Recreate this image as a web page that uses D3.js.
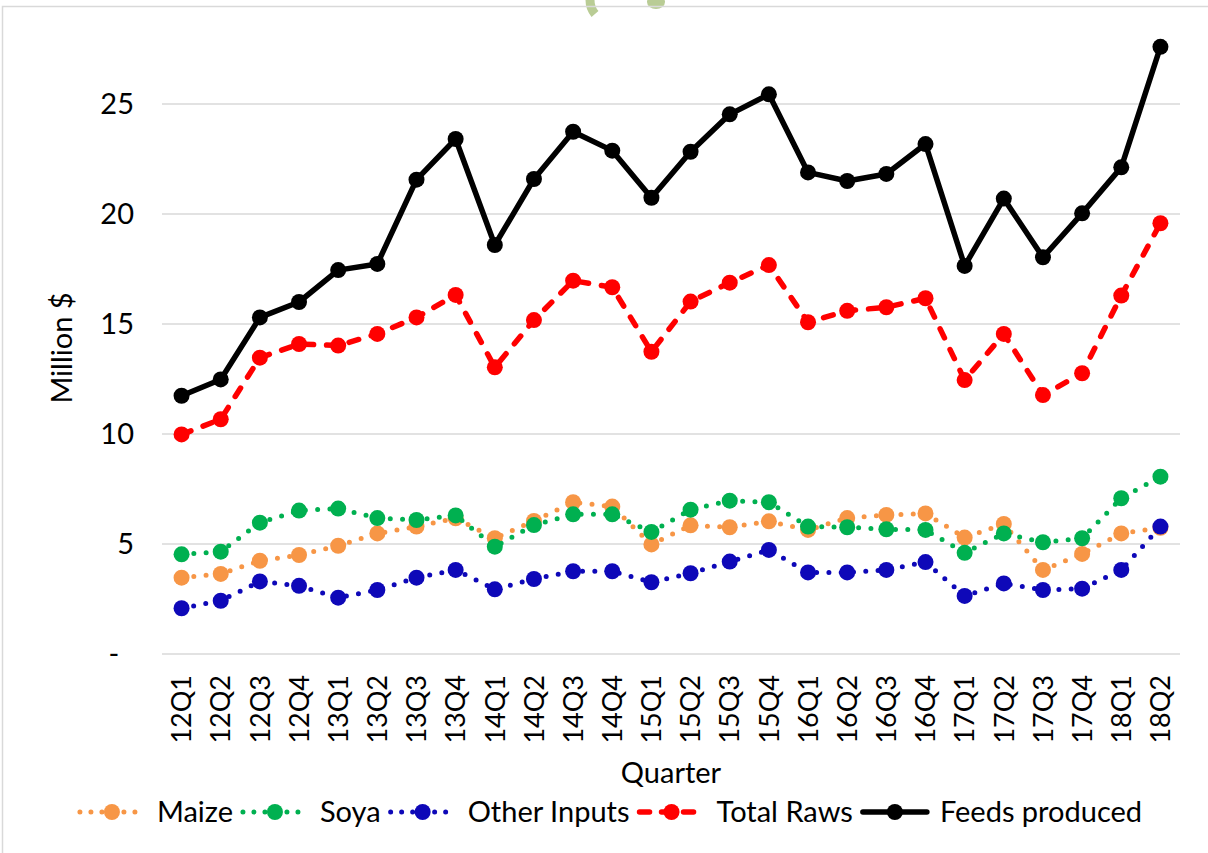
<!DOCTYPE html>
<html lang="en">
<head>
  <meta charset="UTF-8" />
  <title>Feed inputs vs feeds produced</title>
  <script src="https://d3js.org/d3.v7.min.js"></script>
  <style>
    body {
      margin: 0;
      background: #fff;
      font-family: 'Lato', 'Noto Sans', sans-serif;
    }
    svg text {
      fill: #000;
    }
  </style>
</head>
<body>
  <svg id="chart"></svg>

  <script>
    // Data (Million $ per quarter)
    const quarters = ["12Q1","12Q2","12Q3","12Q4","13Q1","13Q2","13Q3","13Q4",
      "14Q1","14Q2","14Q3","14Q4","15Q1","15Q2","15Q3","15Q4",
      "16Q1","16Q2","16Q3","16Q4","17Q1","17Q2","17Q3","17Q4","18Q1","18Q2"];

    const maize = [3.47, 3.64, 4.24, 4.5, 4.92, 5.48, 5.79, 6.17,
      5.26, 6.05, 6.9, 6.7, 4.98, 5.85, 5.76, 6.03,
      5.64, 6.18, 6.32, 6.39, 5.29, 5.91, 3.82, 4.55, 5.48, 5.74];

    const soya = [4.53, 4.65, 5.97, 6.52, 6.61, 6.18, 6.09, 6.3,
      4.88, 5.86, 6.35, 6.35, 5.55, 6.56, 6.97, 6.9,
      5.79, 5.76, 5.67, 5.64, 4.6, 5.48, 5.08, 5.26, 7.08, 8.06];

    const otherInputs = [2.08, 2.42, 3.3, 3.1, 2.56, 2.91, 3.47, 3.82,
      2.94, 3.41, 3.76, 3.76, 3.26, 3.67, 4.2, 4.73,
      3.71, 3.71, 3.82, 4.18, 2.64, 3.21, 2.91, 2.97, 3.82, 5.79];

    const totalRaws = [9.98, 10.67, 13.47, 14.09, 14.02, 14.55, 15.3, 16.32,
      13.03, 15.18, 16.97, 16.67, 13.74, 16.02, 16.88, 17.68,
      15.08, 15.6, 15.76, 16.17, 12.45, 14.55, 11.77, 12.76, 16.29, 19.58];

    const feedsProduced = [11.74, 12.48, 15.3, 16.0, 17.45, 17.73, 21.56, 23.41,
      18.59, 21.59, 23.74, 22.88, 20.74, 22.83, 24.53, 25.44,
      21.89, 21.5, 21.82, 23.18, 17.64, 20.7, 18.03, 20.03, 22.12, 27.6];

    const yTicks = [0, 5, 10, 15, 20, 25];

    // Series in Excel draw order, with their line styles
    const series = [
      { name: "Maize", values: maize, color: "#F79646", width: 5, dash: "0 12.3", legendDash: "0 11" },
      { name: "Soya", values: soya, color: "#00B050", width: 5, dash: "0 12.3", legendDash: "0 11" },
      { name: "Other Inputs", values: otherInputs, color: "#0E08B8", width: 5, dash: "0 12.3", legendDash: "0 11" },
      { name: "Total Raws", values: totalRaws, color: "#FF0000", width: 5.5, dash: "10 13", legendDash: "10 12" },
      { name: "Feeds produced", values: feedsProduced, color: "#000000", width: 5.5, dash: null, legendDash: null }
    ];

    const W = 1208, H = 853;
    const plot = { left: 162, right: 1180, top: 104, bottom: 654 };
    const font = 29, tickFont = 27;

    const svg = d3.select("#chart")
      .attr("width", W)
      .attr("height", H)
      .attr("viewBox", [0, 0, W, H]);

    svg.append("rect").attr("width", W).attr("height", H).attr("fill", "#fff");

    // faint watermark pieces peeking in at the top
    const wm = svg.append("g").attr("fill", "none").attr("stroke", "#B9CC95");
    wm.append("path").attr("d", "M590,0 Q590,8 595,14").attr("stroke-width", 9);
    wm.append("ellipse").attr("cx", 656).attr("cy", 2).attr("rx", 9).attr("ry", 7)
      .attr("fill", "#B9CC95").attr("stroke", "none");

    // chart border (cropped on the right and bottom)
    svg.append("rect")
      .attr("x", 2.5).attr("y", 6.5)
      .attr("width", W + 20).attr("height", H + 20)
      .attr("fill", "none")
      .attr("stroke", "#D9D9D9")
      .attr("stroke-width", 1.5);

    const x = d3.scaleBand().domain(quarters).range([plot.left, plot.right]);
    const y = d3.scaleLinear().domain([0, 25]).range([plot.bottom, plot.top]);
    const cx = q => x(q) + x.bandwidth() / 2;

    // gridlines
    svg.append("g")
      .selectAll("line")
      .data(yTicks)
      .join("line")
      .attr("x1", plot.left)
      .attr("x2", plot.right)
      .attr("y1", d => y(d))
      .attr("y2", d => y(d))
      .attr("stroke", "#D9D9D9")
      .attr("stroke-width", 1.5);

    // y axis labels
    const yAxis = d3.axisLeft(y)
      .tickValues(yTicks)
      .tickSize(0)
      .tickPadding(0)
      .tickFormat(d => d === 0 ? "-\u00a0\u00a0" : d3.format("d")(d));

    svg.append("g")
      .attr("transform", "translate(134,0)")
      .call(yAxis)
      .call(g => g.select(".domain").remove())
      .call(g => g.selectAll("text")
        .attr("font-family", "Lato, sans-serif")
        .attr("font-size", font)
        .attr("fill", "#000"));

    // x axis labels, rotated
    const xAxis = d3.axisBottom(x).tickSize(0).tickPadding(0);
    svg.append("g")
      .attr("transform", `translate(0,${plot.bottom})`)
      .call(xAxis)
      .call(g => g.select(".domain").remove())
      .call(g => g.selectAll("text")
        .attr("font-family", "Lato, sans-serif")
        .attr("font-size", tickFont)
        .attr("fill", "#000")
        .attr("text-anchor", "end")
        .attr("transform", "translate(0,21) rotate(-90)")
        .attr("x", 0)
        .attr("y", 0)
        .attr("dy", "0.36em"));

    // axis titles
    svg.append("text")
      .attr("x", (plot.left + plot.right) / 2)
      .attr("y", 783)
      .attr("text-anchor", "middle")
      .attr("font-size", font)
      .text("Quarter");

    svg.append("text")
      .attr("transform", "translate(72,348) rotate(-90)")
      .attr("text-anchor", "middle")
      .attr("font-size", font)
      .text("Million $");

    // series lines and markers
    const line = d3.line()
      .x((d, i) => cx(quarters[i]))
      .y(d => y(d));

    series.forEach(s => {
      const g = svg.append("g");
      g.append("path")
        .attr("d", line(s.values))
        .attr("fill", "none")
        .attr("stroke", s.color)
        .attr("stroke-width", s.width)
        .attr("stroke-linecap", "round")
        .attr("stroke-linejoin", "round")
        .attr("stroke-dasharray", s.dash);
      g.selectAll("circle")
        .data(s.values)
        .join("circle")
        .attr("cx", (d, i) => cx(quarters[i]))
        .attr("cy", d => y(d))
        .attr("r", 8)
        .attr("fill", s.color);
    });

    // legend
    const legend = svg.append("g");
    const symW = 64, gap = 13, itemGap = 10, legendY = 812;
    let lx = 0;
    series.forEach(s => {
      const item = legend.append("g");
      item.append("line")
        .attr("x1", 0).attr("x2", symW)
        .attr("y1", 0).attr("y2", 0)
        .attr("stroke", s.color)
        .attr("stroke-width", s.width)
        .attr("stroke-linecap", "round")
        .attr("stroke-dasharray", s.legendDash);
      item.append("circle")
        .attr("cx", symW / 2).attr("cy", 0)
        .attr("r", 8).attr("fill", s.color);
      const t = item.append("text")
        .attr("x", symW + gap)
        .attr("dy", "0.36em")
        .attr("font-size", font)
        .text(s.name);
      const w = symW + gap + t.node().getComputedTextLength();
      item.attr("transform", `translate(${lx},${legendY})`);
      lx += w + itemGap;
    });
    const totalW = lx - itemGap;
    legend.attr("transform", `translate(${(75 + 1147) / 2 - totalW / 2},0)`);
  </script>
</body>
</html>
